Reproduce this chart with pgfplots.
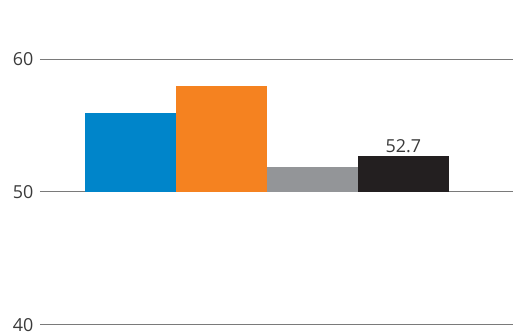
\documentclass[border=0pt]{standalone}
\usepackage{pgfplots}
\pgfplotsset{compat=1.18}
\usepackage{fontspec}
\setmainfont{Open Sans}
\definecolor{cblue}{HTML}{0085CA}
\definecolor{corange}{HTML}{F58220}
\definecolor{cgray}{HTML}{939598}
\definecolor{cblack}{HTML}{231F20}
\definecolor{ctext}{HTML}{3A3A3A}
\definecolor{cgrid}{HTML}{7A7A7A}
\begin{document}
\begin{tikzpicture}
\begin{axis}[
  name=ax,
  scale only axis,
  width=473bp, height=325bp,
  xmin=-0.995, xmax=4.20,
  ymin=40, ymax=64.44,
  y coord trafo/.code={\pgfmathparse{#1-50}},
  y coord inv trafo/.code={\pgfmathparse{#1+50}},
  axis line style={draw=none},
  xtick=\empty,
  ytick={40,50,60},
  yticklabels={40,50,60},
  ymajorgrids,
  grid style={cgrid, line width=0.9bp},
  major tick length=0pt,
  yticklabel style={font=\fontsize{18}{20}\selectfont, text=ctext, xshift=-3bp},
  ybar, bar width=91bp, bar shift=0pt,
  clip=false,
  /pgf/number format/assume math mode=true,
]
\addplot[fill=cblue, draw=none] coordinates {(0,55.9)};
\addplot[fill=corange, draw=none] coordinates {(1,58.0)};
\addplot[fill=cgray, draw=none] coordinates {(2,51.9)};
\addplot[fill=cblack, draw=none,
  nodes near coords, point meta=rawy,
  nodes near coords style={font=\fontsize{18}{20}\selectfont, text=ctext, inner sep=3bp, /pgf/number format/fixed, /pgf/number format/fixed zerofill, /pgf/number format/precision=1, /pgf/number format/assume math mode=true}]
  coordinates {(3,52.7)};
\end{axis}
\path (ax.south west) ++(-40bp,-9bp) coordinate (bl);
\path[use as bounding box] (bl) rectangle (ax.north east);
\end{tikzpicture}
\end{document}
